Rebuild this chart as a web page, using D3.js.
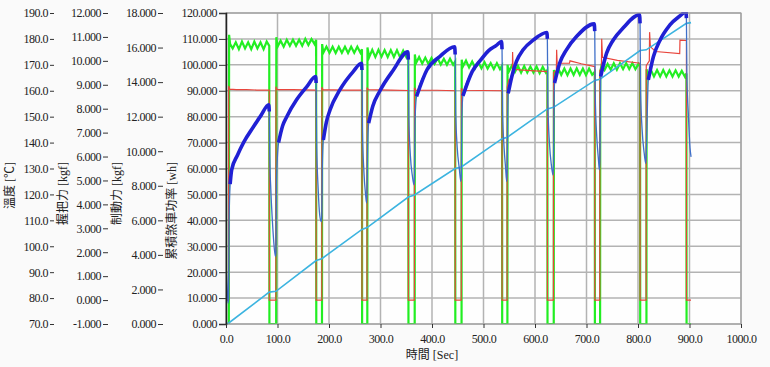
<!DOCTYPE html>
<html>
<head>
<meta charset="utf-8">
<script src="https://cdn.jsdelivr.net/npm/d3@7"></script>
<style>
  html, body { margin: 0; padding: 0; background: #fafafa; }
  svg { display: block; }
  svg text { font-family: "Liberation Serif", "Noto Sans CJK TC", serif; font-size: 12px; fill: #222; }
  svg .tick text { letter-spacing: -0.5px; }
</style>
</head>
<body>
<svg id="chart" width="770" height="367"></svg>
<script>
// tick labels
const timeTicks = [0, 100, 200, 300, 400, 500, 600, 700, 800, 900, 1000];
const tempTicks = [70, 80, 90, 100, 110, 120, 130, 140, 150, 160, 170, 180, 190];
const gripTicks = [-1, 0, 1, 2, 3, 4, 5, 6, 7, 8, 9, 10, 11, 12];
const brakeTicks = [0, 2, 4, 6, 8, 10, 12, 14, 16, 18];
const energyTicks = [0, 10, 20, 30, 40, 50, 60, 70, 80, 90, 100, 110, 120];

// braking phases [sec]
const onStart = [6, 97, 186, 274, 366, 457, 546, 636, 726, 816];
const onEnd = [84, 175, 264, 354, 445, 536, 624, 716, 804, 894];

// 溫度 [℃]  [t, value]
const temperature = [
  [0, 93.5], [2, 85], [4, 78], [5, 80], [6, 110], [8, 124], [11, 129.5], [22, 135], [34, 140], [53, 146], [68, 150.5], [83, 154.6],
  [84, 152], [85, 135], [87, 122], [90, 110], [93, 101], [96, 96],
  [97, 98], [98, 125], [102, 140], [110, 146.5], [118, 150], [137, 156.5], [157, 161.6], [174, 165.5],
  [175, 163], [176, 140], [179, 122], [182, 112], [185, 109.5],
  [186, 112], [187, 130], [189, 141], [195, 148], [202, 152.6], [221, 160.3], [247, 167.4], [263, 170.6],
  [264, 168], [265, 145], [268, 128], [271, 120], [273, 116.7],
  [274, 123.7], [275, 138], [277, 147.5], [285, 154], [299, 160], [325, 168], [353, 175],
  [354, 172], [355, 150], [358, 135], [362, 127], [365, 123.7],
  [366, 127], [367, 148], [370, 157.8], [390, 168], [415, 173.2], [444, 177],
  [445, 174], [446, 152], [449, 138], [453, 130], [456, 125],
  [457, 128], [458, 150], [460, 158], [478, 167.4], [495, 172], [510, 175.5], [525, 177.5], [535, 179],
  [536, 176], [537, 152], [540, 138], [543, 130], [545, 125],
  [546, 130], [547, 150], [548, 159], [555, 165.5], [564, 171.3], [577, 175.8], [597, 179.6], [623, 182.5],
  [624, 180], [625, 155], [628, 140], [632, 131], [635, 127.5],
  [636, 132], [637, 155], [638, 163], [648, 170.7], [661, 175.8], [681, 181], [715, 185.8],
  [716, 183], [717, 158], [720, 142], [723, 134], [725, 129.5],
  [726, 134], [727.5, 165.5], [739, 174.5], [752, 179.6], [771, 184.2], [803, 189.3],
  [804, 186], [805, 160], [808, 145], [812, 136], [815, 132],
  [816, 136], [820, 164.2], [830, 173.2], [843, 179.6], [862, 185.4], [888, 190], [893, 191],
  [894, 188], [895, 165], [898, 150], [901, 138], [903, 134.5]
];

// 握把力 [kgf]
const gripForce = [
  [0, 0], [5, 0], [5.2, 8.95], [7, 8.82], [20, 8.8], [40, 8.8], [60, 8.78], [84, 8.78], [84.1, 0],
  [96.8, 0], [97, 8.92], [99, 8.8], [130, 8.8], [175, 8.78], [175.1, 0],
  [186, 0], [186.2, 8.9], [188, 8.8], [230, 8.78], [264, 8.78], [264.1, 0],
  [273.8, 0], [274, 8.88], [276, 8.8], [320, 8.78], [354, 8.76], [354.1, 0],
  [365.8, 0], [366, 8.88], [368, 8.78], [410, 8.77], [445, 8.75], [445.1, 0],
  [456.8, 0], [457, 8.85], [459, 8.77], [500, 8.76], [536, 8.75], [536.1, 0],
  [545.8, 0], [546, 8.9], [549, 9.2], [556, 9.3], [556.5, 10.37], [557.5, 9.65], [570, 9.62], [600, 9.58], [624, 9.55], [624.1, 0],
  [635.8, 0], [636, 9.5], [641.5, 9.6], [642, 10.46], [643, 9.9], [667, 9.9], [668, 10.0], [690, 9.88], [716, 9.76], [716.1, 0],
  [725.8, 0], [726, 9.6], [729, 9.7], [729.5, 10.92], [731, 10.15], [760, 10.02], [804, 9.9], [804.1, 0],
  [815.8, 0], [816, 9.8], [822, 10.0], [822.5, 11.2], [824, 10.6], [827, 10.53], [834, 10.39], [881, 10.3], [881.5, 10.87], [894, 10.85], [894.1, 0], [903, 0]
];

// 制動力 [kgf]
const brakeForce = [
  [0, 0], [5.5, 0], [6, 16.74], [8, 16.2], [13, 15.95], [19, 16.3], [25, 15.9], [31, 16.35], [37, 15.95], [43, 16.3], [49, 15.9], [55, 16.35], [61, 15.95], [67, 16.3], [73, 15.9], [79, 16.35], [84, 16.1], [84.3, 0],
  [97.4, 0], [97.7, 16.6], [100, 16.05], [106, 16.4], [112, 16.05], [118, 16.45], [124, 16.1], [130, 16.45], [136, 16.1], [142, 16.45], [148, 16.1], [154, 16.5], [160, 16.15], [166, 16.5], [172, 16.2], [175, 16.45], [175.3, 0],
  [186.4, 0], [186.7, 16.2], [189, 15.7], [195, 16.05], [201, 15.7], [207, 16.05], [213, 15.68], [219, 16.05], [225, 15.7], [231, 16.05], [237, 15.68], [243, 16.05], [249, 15.7], [255, 16.05], [261, 15.7], [264, 15.9], [264.3, 0],
  [274.4, 0], [274.7, 16.0], [278, 15.45], [284, 15.87], [290, 15.45], [296, 15.87], [302, 15.47], [308, 15.85], [314, 15.45], [320, 15.85], [326, 15.45], [332, 15.85], [338, 15.43], [344, 15.82], [350, 15.45], [354, 15.7], [354.3, 0],
  [366.4, 0], [366.7, 15.6], [369, 15.1], [375, 15.45], [381, 15.08], [387, 15.42], [393, 15.05], [399, 15.4], [405, 15.05], [411, 15.38], [417, 15.02], [423, 15.35], [429, 15.0], [435, 15.35], [441, 15.0], [445, 15.2], [445.3, 0],
  [457.4, 0], [457.7, 15.3], [460, 14.9], [466, 15.25], [472, 14.85], [478, 15.2], [484, 14.82], [490, 15.15], [496, 14.8], [502, 15.15], [508, 14.78], [514, 15.1], [520, 14.75], [526, 15.1], [532, 14.75], [536, 14.95], [536.3, 0],
  [546.4, 0], [546.7, 15.0], [549, 14.6], [555, 14.95], [561, 14.58], [567, 14.93], [573, 14.55], [579, 14.93], [585, 14.55], [591, 14.9], [597, 14.55], [603, 14.9], [609, 14.52], [615, 14.88], [621, 14.55], [624, 14.7], [624.3, 0],
  [636.4, 0], [636.7, 14.7], [639, 14.45], [645, 14.8], [651, 14.42], [657, 14.78], [663, 14.4], [669, 14.78], [675, 14.42], [681, 14.8], [687, 14.42], [693, 14.78], [699, 14.4], [705, 14.78], [711, 14.42], [716, 14.6], [716.3, 0],
  [726.4, 0], [726.7, 14.6], [729, 14.95], [735, 14.7], [741, 15.05], [747, 14.72], [753, 15.09], [759, 14.72], [765, 15.09], [771, 14.75], [777, 15.1], [783, 14.75], [789, 15.1], [795, 14.75], [801, 15.05], [804, 14.9], [804.3, 0],
  [816.4, 0], [816.7, 14.75], [819, 14.35], [825, 14.7], [831, 14.33], [837, 14.7], [843, 14.33], [849, 14.7], [855, 14.33], [861, 14.68], [867, 14.32], [873, 14.68], [879, 14.32], [885, 14.65], [891, 14.32], [894, 14.5], [894.3, 0], [903, 0]
];

// 累積煞車功率 [wh]
const energy = [
  [0, 0], [6, 0.5], [84, 12.3], [97, 12.6], [175, 24.5], [186, 25.2], [264, 36.5], [274, 37.2],
  [354, 49], [366, 49.8], [445, 60], [457, 60.6], [536, 71.5], [546, 72], [624, 83], [636, 83.6],
  [716, 94], [726, 94.4], [804, 105.5], [816, 105.8], [894, 116], [903, 116.3]
];

const svg = d3.select("#chart");
const plotL = 226, plotR = 741, plotT = 13, plotB = 324;

const x = d3.scaleLinear().domain([0, 1000]).range([plotL, plotR]);
const yTemp = d3.scaleLinear().domain([70, 190]).range([plotB, plotT]);
const yGrip = d3.scaleLinear().domain([-1, 12]).range([plotB, plotT]);
const yBrake = d3.scaleLinear().domain([0, 18]).range([plotB, plotT]);
const yEnergy = d3.scaleLinear().domain([0, 120]).range([plotB, plotT]);

// plot background + grid
svg.append("rect").attr("x", plotL).attr("y", plotT)
  .attr("width", plotR - plotL).attr("height", plotB - plotT).attr("fill", "#fefefe");

const grid = svg.append("g").attr("stroke", "#b3b3b3").attr("stroke-width", 1.5);
grid.selectAll("line.h").data(energyTicks).join("line").attr("class", "h")
  .attr("x1", plotL).attr("x2", plotR)
  .attr("y1", d => yEnergy(d)).attr("y2", d => yEnergy(d));
grid.selectAll("line.v").data(timeTicks).join("line").attr("class", "v")
  .attr("y1", plotT).attr("y2", plotB)
  .attr("x1", d => x(d)).attr("x2", d => x(d));

svg.append("defs").append("clipPath").attr("id", "clip")
  .append("rect").attr("x", plotL).attr("y", plotT - 1)
  .attr("width", plotR - plotL).attr("height", plotB - plotT + 1);

const plot = svg.append("g").attr("clip-path", "url(#clip)").attr("fill", "none");

const line = y => d3.line().x(d => x(d[0])).y(d => y(d[1]));

plot.append("path").datum(brakeForce).attr("d", line(yBrake))
  .attr("stroke", "#22ee22").attr("stroke-width", 2.2);

plot.append("path").datum(gripForce).attr("d", line(yGrip))
  .attr("stroke", "#e8453c").attr("stroke-width", 1.2);

plot.append("path").datum(energy).attr("d", line(yEnergy))
  .attr("stroke", "#3cb4e0").attr("stroke-width", 1.6);

plot.append("path").datum(temperature)
  .attr("d", line(yTemp).curve(d3.curveMonotoneX))
  .attr("stroke", "#3f6fc8").attr("stroke-width", 1.3);

// thick trace while braking (after the steep first rise)
onStart.forEach((s, i) => {
  const seg = temperature.filter(d => d[0] >= s + 1.5 && d[0] <= onEnd[i]);
  plot.append("path").datum(seg)
    .attr("d", line(yTemp).curve(d3.curveMonotoneX))
    .attr("stroke", "#2020d4").attr("stroke-width", 3.6);
});

// frame
svg.append("rect").attr("x", plotL).attr("y", plotT)
  .attr("width", plotR - plotL).attr("height", plotB - plotT)
  .attr("fill", "none").attr("stroke", "#9a9a9a").attr("stroke-width", 1);

// axes
function leftAxis(scale, ticks, fmt, xPos, size, pad, domain) {
  const g = svg.append("g").attr("transform", `translate(${xPos},0)`)
    .call(d3.axisLeft(scale).tickValues(ticks).tickFormat(fmt).tickSize(size).tickPadding(pad));
  if (!domain) g.select(".domain").remove();
  g.selectAll(".tick line").attr("stroke", "#333");
  return g;
}
leftAxis(yTemp, tempTicks, d => d.toFixed(1), 54, 4, 2, false);
leftAxis(yGrip, gripTicks, d => d.toFixed(3), 108, 5, 2, false);
leftAxis(yBrake, brakeTicks, d => d.toFixed(3), 163, 5, 2, false);
const ea = leftAxis(yEnergy, energyTicks, d => d.toFixed(3), plotL, 7, 2, true);
ea.select(".domain").attr("stroke", "#222").attr("stroke-width", 1.5);

const xa = svg.append("g").attr("transform", `translate(0,${plotB})`)
  .call(d3.axisBottom(x).tickValues(timeTicks).tickFormat(d => d.toFixed(1)).tickSize(4).tickPadding(6));
xa.select(".domain").remove();
xa.selectAll(".tick line").attr("stroke", "#333");

// axis titles
const titles = [
  { text: "溫度 [℃]", x: 10 },
  { text: "握把力 [kgf]", x: 63 },
  { text: "制動力 [kgf]", x: 117 },
  { text: "累積煞車功率 [wh]", x: 172 }
];
svg.selectAll("text.title").data(titles).join("text")
  .attr("class", "title")
  .attr("transform", d => `translate(${d.x},162) rotate(-90)`)
  .attr("text-anchor", "end").attr("dy", "0.35em")
  .text(d => d.text);

svg.append("text").attr("x", 432).attr("y", 359)
  .attr("text-anchor", "middle")
  .text("時間 [Sec]");
</script>
</body>
</html>
